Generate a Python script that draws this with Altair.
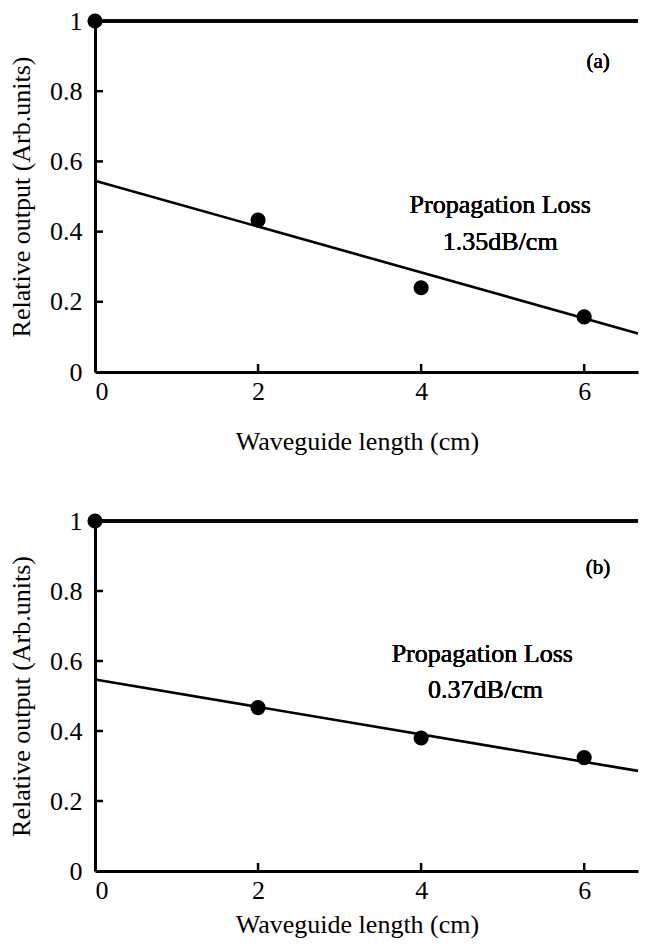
import altair as alt
import pandas as pd

# ---- data ----
lengths = [0, 2, 4, 6]                      # waveguide length (cm)
output_a = [1.0, 0.433, 0.24, 0.157]        # panel (a) relative output
output_b = [1.0, 0.467, 0.38, 0.324]        # panel (b) relative output
fit_x = [0, 6.66]                           # fitted line end points (cm)
fit_a = [0.545, 0.11]
fit_b = [0.547, 0.286]
x_tick_values = [2, 4, 6]
y_tick_values = [0.2, 0.4, 0.6, 0.8]
x_label_values = [0, 2, 4, 6]
y_label_values = [0, 0.2, 0.4, 0.6, 0.8, 1]
notes_a = ["Propagation Loss", "1.35dB/cm"]
notes_b = ["Propagation Loss", "0.37dB/cm"]
tags = ["(a)", "(b)"]

X_MAX = fit_x[1]
FONT = "Liberation Serif"
W = 543


def panel(values, fit, notes, tag, note_xy, tag_xy, h, title_pad):
    xs = alt.Scale(domain=[0, X_MAX], nice=False, zero=False)
    ys = alt.Scale(domain=[0, 1], nice=False)
    xa = alt.Axis(
        values=x_label_values, format="~g", ticks=False, grid=False,
        domainWidth=3, domainColor="black", labelPadding=6,
        title="Waveguide length (cm)",
        titlePadding=title_pad, titleX=262, titleAnchor="middle")
    ya = alt.Axis(
        values=y_label_values, format="~g", ticks=False, grid=False,
        domainWidth=3, domainColor="black", labelPadding=13,
        title="Relative output (Arb.units)", titlePadding=15)
    pts = pd.DataFrame({"x": lengths, "y": values})
    line = pd.DataFrame({"x": fit_x, "y": fit})
    xt = pd.DataFrame({"t": x_tick_values})
    yt = pd.DataFrame({"t": y_tick_values})

    points = alt.Chart(pts).mark_circle(size=230, color="black", opacity=1).encode(
        x=alt.X("x:Q", scale=xs, axis=xa), y=alt.Y("y:Q", scale=ys, axis=ya))
    fitline = alt.Chart(line).mark_line(color="black", strokeWidth=2.6).encode(
        x=alt.X("x:Q", scale=xs, axis=xa), y=alt.Y("y:Q", scale=ys, axis=ya))
    top = alt.Chart(pts).mark_rule(color="black", strokeWidth=3).encode(
        y=alt.Y(datum=1, scale=ys, axis=ya))
    xticks = alt.Chart(xt).mark_rule(color="black", strokeWidth=2.5).encode(
        x=alt.X("t:Q", scale=xs, axis=xa), y=alt.value(h), y2=alt.value(h - 8))
    yticks = alt.Chart(yt).mark_rule(color="black", strokeWidth=2.5).encode(
        y=alt.Y("t:Q", scale=ys, axis=ya), x=alt.value(0), x2=alt.value(8))
    texts = []
    for txt, (tx, ty) in zip(notes, note_xy):
        texts.append(alt.Chart(pts).mark_text(font=FONT, fontSize=26, color="black").encode(
            x=alt.X(datum=tx, scale=xs, axis=xa), y=alt.Y(datum=ty, scale=ys, axis=ya),
            text=alt.value(txt)))
    texts.append(alt.Chart(pts).mark_text(font=FONT, fontSize=21, color="black").encode(
        x=alt.X(datum=tag_xy[0], scale=xs, axis=xa), y=alt.Y(datum=tag_xy[1], scale=ys, axis=ya),
        text=alt.value(tag)))
    return alt.layer(points, top, fitline, xticks, yticks, *texts).properties(width=W, height=h)


pa = panel(output_a, fit_a, notes_a, tags[0], [(4.97, 0.476), (4.97, 0.37)], (6.17, 0.883), 351, 24)
pb = panel(output_b, fit_b, notes_b, tags[1], [(4.75, 0.62), (4.79, 0.516)], (6.17, 0.865), 350, 8)

chart = alt.vconcat(pa, pb, spacing=54).properties(
    padding={"left": 0, "top": 0, "right": 0, "bottom": 2},
    background="white",
).configure_view(strokeWidth=0).configure_axis(
    labelFont=FONT, titleFont=FONT, labelFontSize=26, titleFontSize=26,
    labelColor="black", titleColor="black", domainColor="black",
    titleFontWeight="normal", labelFontWeight="normal",
)

chart.save("out.html", embed_options={"renderer": "svg", "actions": False})
